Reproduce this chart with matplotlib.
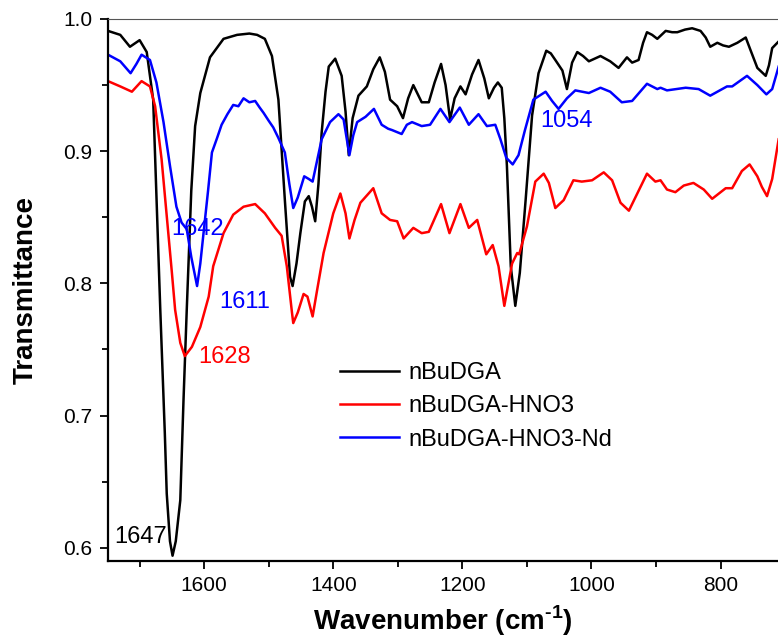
import matplotlib
matplotlib.use('Agg')
import matplotlib.pyplot as plt
from matplotlib.ticker import MultipleLocator

plt.rcParams['font.family'] = ['Liberation Sans', 'DejaVu Sans']
plt.rcParams['mathtext.fontset'] = 'custom'
plt.rcParams['mathtext.rm'] = 'Liberation Sans:bold'
plt.rcParams['mathtext.bf'] = 'Liberation Sans:bold'

wn_black = [1749, 1730, 1715, 1700, 1689, 1679, 1668, 1661, 1658, 1653, 1649, 1644, 1637, 1632, 1627,
            1620, 1614, 1606, 1591, 1570, 1549, 1530, 1518, 1506, 1495, 1485, 1475, 1467, 1463, 1457,
            1451, 1444, 1438, 1433, 1428, 1423, 1418, 1412, 1407, 1397, 1387, 1381, 1376, 1370, 1361,
            1348, 1338, 1328, 1320, 1312, 1301, 1292, 1284, 1276, 1263, 1252, 1243, 1233, 1226, 1219,
            1212, 1203, 1195, 1185, 1175, 1166, 1159, 1151, 1145, 1139, 1135, 1131, 1125, 1118, 1111,
            1102, 1092, 1082, 1070, 1063, 1056, 1045, 1038, 1030, 1022, 1013, 1004, 995, 986, 971,
            958, 945, 937, 927, 920, 914, 906, 898, 885, 875, 867, 855, 844, 831, 823,
            816, 805, 796, 787, 774, 761, 754, 743, 730, 725, 720, 710]
t_black = [0.991, 0.988, 0.979, 0.984, 0.975, 0.939, 0.780, 0.687, 0.641, 0.605, 0.594, 0.605, 0.636, 0.712, 0.780,
           0.870, 0.919, 0.944, 0.971, 0.985, 0.988, 0.989, 0.988, 0.985, 0.972, 0.939, 0.863, 0.805, 0.798, 0.815,
           0.838, 0.862, 0.866, 0.858, 0.847, 0.875, 0.914, 0.945, 0.964, 0.970, 0.957, 0.930, 0.897, 0.925, 0.942,
           0.949, 0.962, 0.971, 0.960, 0.939, 0.934, 0.925, 0.940, 0.950, 0.937, 0.937, 0.952, 0.966, 0.950, 0.924,
           0.940, 0.949, 0.943, 0.958, 0.969, 0.955, 0.940, 0.948, 0.952, 0.948, 0.925, 0.889, 0.813, 0.783, 0.808,
           0.863, 0.927, 0.959, 0.976, 0.974, 0.969, 0.961, 0.947, 0.967, 0.975, 0.972, 0.968, 0.970, 0.972, 0.968,
           0.963, 0.971, 0.967, 0.969, 0.982, 0.990, 0.988, 0.985, 0.991, 0.990, 0.990, 0.992, 0.993, 0.991, 0.986,
           0.979, 0.982, 0.980, 0.979, 0.982, 0.986, 0.977, 0.963, 0.957, 0.965, 0.978, 0.983]

wn_red = [1749, 1730, 1712, 1697, 1684, 1676, 1666, 1658, 1650, 1645, 1637, 1630, 1619, 1606, 1593,
          1586, 1570, 1555, 1539, 1521, 1506, 1490, 1480, 1472, 1464, 1462, 1455, 1446, 1440, 1432,
          1425, 1415, 1400, 1389, 1381, 1375, 1367, 1358, 1338, 1325, 1312, 1301, 1291, 1276, 1263,
          1252, 1233, 1220, 1203, 1190, 1177, 1163, 1153, 1144, 1135, 1123, 1115, 1112, 1100, 1087,
          1074, 1066, 1056, 1043, 1028, 1015, 999, 981, 968, 955, 942, 929, 914, 901, 893,
          883, 870, 857, 842, 826, 813, 792, 782, 767, 755, 743, 736, 728, 720, 710]
t_red = [0.953, 0.949, 0.945, 0.953, 0.949, 0.934, 0.894, 0.851, 0.808, 0.780, 0.755, 0.745, 0.752, 0.767, 0.790,
         0.813, 0.838, 0.852, 0.858, 0.860, 0.853, 0.842, 0.836, 0.813, 0.778, 0.770, 0.778, 0.792, 0.790, 0.775,
         0.795, 0.823, 0.853, 0.868, 0.853, 0.834, 0.848, 0.861, 0.872, 0.853, 0.848, 0.847, 0.834, 0.842, 0.838,
         0.839, 0.860, 0.838, 0.860, 0.842, 0.848, 0.822, 0.829, 0.813, 0.783, 0.815, 0.823, 0.822, 0.843, 0.877,
         0.883, 0.876, 0.857, 0.863, 0.878, 0.877, 0.878, 0.884, 0.878, 0.861, 0.855, 0.868, 0.883, 0.877, 0.878,
         0.871, 0.869, 0.874, 0.876, 0.871, 0.864, 0.872, 0.872, 0.885, 0.890, 0.881, 0.873, 0.866, 0.879, 0.909]

wn_blue = [1749, 1730, 1714, 1705, 1697, 1684, 1674, 1663, 1653, 1643, 1635, 1627, 1620, 1611, 1606,
           1601, 1594, 1588, 1580, 1573, 1564, 1555, 1547, 1539, 1530, 1521, 1514, 1508, 1500, 1493,
           1485, 1475, 1468, 1462, 1455, 1445, 1438, 1432, 1425, 1418, 1405, 1392, 1384, 1375, 1369,
           1363, 1350, 1337, 1325, 1315, 1309, 1294, 1286, 1278, 1263, 1250, 1234, 1220, 1204, 1190,
           1175, 1162, 1149, 1141, 1132, 1122, 1113, 1103, 1090, 1071, 1061, 1051, 1038, 1025, 1004,
           986, 971, 953, 937, 914, 898, 893, 883, 854, 834, 816, 790, 782, 759, 743,
           729, 720, 710]
t_blue = [0.973, 0.968, 0.959, 0.966, 0.973, 0.969, 0.952, 0.922, 0.889, 0.858, 0.846, 0.841, 0.820, 0.798, 0.815,
          0.838, 0.870, 0.899, 0.910, 0.920, 0.928, 0.935, 0.934, 0.940, 0.937, 0.938, 0.933, 0.929, 0.923, 0.918,
          0.910, 0.899, 0.875, 0.857, 0.865, 0.881, 0.879, 0.877, 0.893, 0.909, 0.922, 0.928, 0.924, 0.897, 0.912,
          0.922, 0.926, 0.932, 0.920, 0.917, 0.916, 0.913, 0.920, 0.922, 0.919, 0.920, 0.932, 0.922, 0.933, 0.920,
          0.928, 0.919, 0.920, 0.909, 0.895, 0.890, 0.897, 0.916, 0.939, 0.945, 0.938, 0.932, 0.940, 0.946, 0.944,
          0.948, 0.945, 0.937, 0.938, 0.951, 0.947, 0.948, 0.946, 0.948, 0.947, 0.942, 0.949, 0.949, 0.957, 0.950,
          0.943, 0.947, 0.964]

# rótulos dos picos: (texto, x, y, cor)
peak_labels = [('1647', 1699, 0.608, 'black'),
               ('1628', 1568, 0.744, 'red'),
               ('1642', 1611, 0.841, 'blue'),
               ('1611', 1538, 0.786, 'blue'),
               ('1054', 1039, 0.923, 'blue')]

# === Figura ===
fig = plt.figure(figsize=(7.78, 6.42), dpi=100)
ax = fig.add_axes([108 / 778, 81 / 642, 1 - 108 / 778, (561 - 19) / 642])

ax.plot(wn_black, t_black, color='black', lw=1.8, label='nBuDGA')
ax.plot(wn_red, t_red, color='red', lw=1.8, label='nBuDGA-HNO3')
ax.plot(wn_blue, t_blue, color='blue', lw=1.8, label='nBuDGA-HNO3-Nd')

for txt, x, y, c in peak_labels:
    ax.text(x, y, txt, color=c, fontsize=17, ha='center', va='center')

ax.set_xlim(1749, 711)
ax.set_ylim(0.59, 1.0)
ax.xaxis.set_major_locator(MultipleLocator(200))
ax.xaxis.set_minor_locator(MultipleLocator(100))
ax.yaxis.set_major_locator(MultipleLocator(0.1))
ax.yaxis.set_minor_locator(MultipleLocator(0.05))
ax.yaxis.set_major_formatter(plt.FuncFormatter(lambda v, p: f'{v:.1f}'))

ax.tick_params(which='major', direction='out', length=6, width=1.3, labelsize=15, pad=5)
ax.tick_params(which='minor', direction='out', length=4, width=1.3)
ax.tick_params(top=False, right=False)

ax.spines['left'].set_linewidth(1.6)
ax.spines['bottom'].set_linewidth(1.6)
ax.spines['top'].set_linewidth(0.8)
ax.spines['top'].set_color('#555555')
ax.spines['right'].set_visible(False)

ax.set_xlabel('Wavenumber (cm$^{\\text{-}1}$)', fontsize=20, fontweight='bold', labelpad=6)
ax.set_ylabel('Transmittance', fontsize=20, fontweight='bold', labelpad=18)

ax.legend(loc='upper left', bbox_to_anchor=(340 / 778, 1 - 362 / 642), bbox_transform=fig.transFigure,
          frameon=False, fontsize=17, handlelength=2.5, handletextpad=0.4, labelspacing=0.48,
          borderpad=0, borderaxespad=0)

fig.savefig('out.png', dpi=100)
